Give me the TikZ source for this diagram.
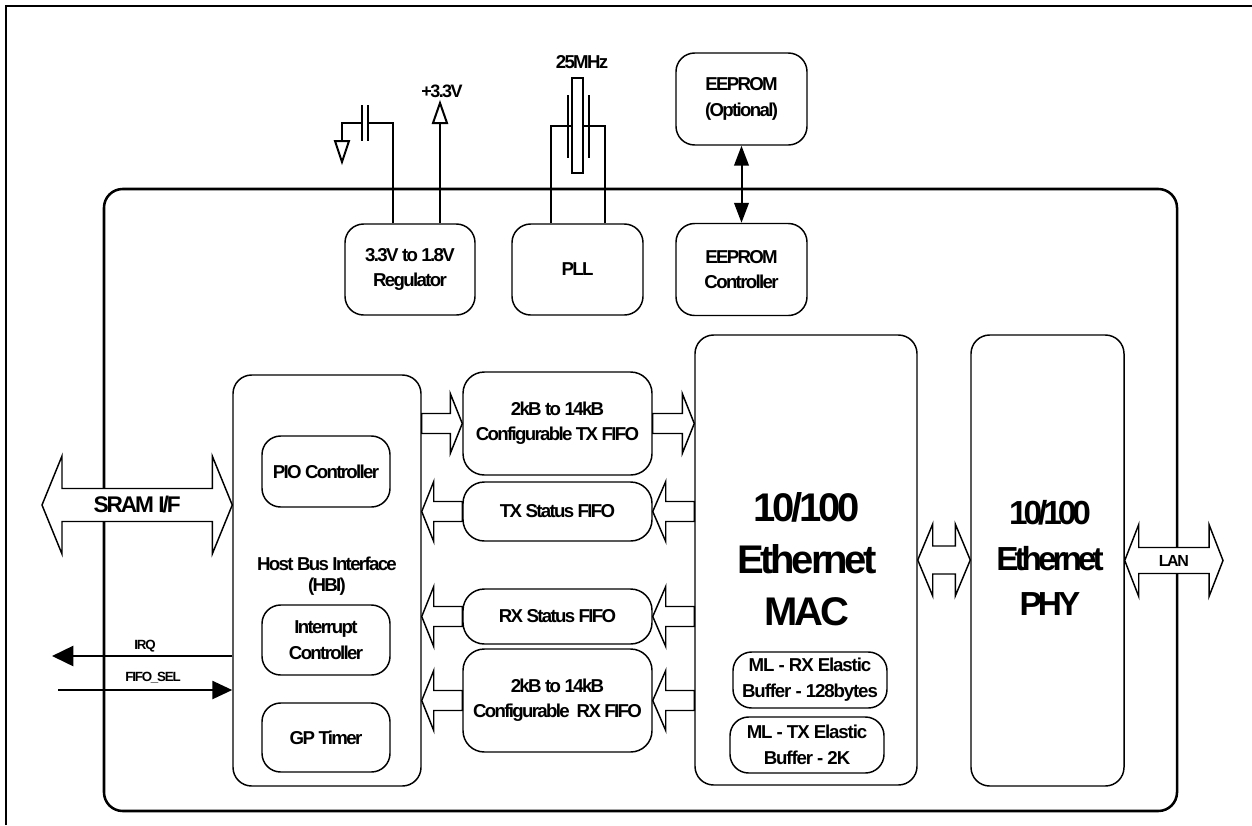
\documentclass[tikz,border=0pt]{standalone}
\usepackage{fontspec}
\setmainfont{Liberation Sans}[LetterSpace=-9.0]
\usetikzlibrary{arrows.meta, positioning, calc}

% wide bus arrow: tail, tip, head offset (signed), shaft half width, head half width
\newcommand{\busarrow}[5]{%
  \filldraw[bus] ($#1+(0,-#4)$) -- ($#2+(#3,-#4)$) -- ($#2+(#3,-#5)$) -- #2
    -- ($#2+(#3,#5)$) -- ($#2+(#3,#4)$) -- ($#1+(0,#4)$) -- cycle;}
% wide bus arrow with two heads: left tip, right tip, head length, shaft half, head half
\newcommand{\busboth}[5]{%
  \filldraw[bus] #1 -- ($#1+(#3,-#5)$) -- ($#1+(#3,-#4)$) -- ($#2+(-#3,-#4)$)
    -- ($#2+(-#3,-#5)$) -- #2 -- ($#2+(-#3,#5)$) -- ($#2+(-#3,#4)$)
    -- ($#1+(#3,#4)$) -- ($#1+(#3,#5)$) -- cycle;}

\begin{document}
\begin{tikzpicture}[x=0.75pt, y=-0.75pt]
    % Define styles
    \tikzset{boxsize/.style 2 args={minimum width=#1*0.75pt, minimum height=#2*0.75pt}}
    \tikzstyle{blk} = [rectangle, draw, line width=1.1pt, rounded corners=14pt, align=center, inner sep=1pt, font=\bfseries\fontsize{14}{19}\selectfont]
    \tikzstyle{chip} = [rectangle, draw, line width=1.9pt, rounded corners=14pt]
    \tikzstyle{big} = [align=center, font=\bfseries\fontsize{30}{39}\selectfont\addfontfeature{LetterSpace=-8}]
    \tikzstyle{lbl} = [inner sep=1pt, font=\bfseries\fontsize{11}{13}\selectfont]
    \tikzstyle{buf} = [blk, boxsize={154}{56}, font=\bfseries\fontsize{14}{19.5}\selectfont\addfontfeature{LetterSpace=-6}]
    \tikzstyle{bus} = [draw, fill=white, line width=1.1pt]
    \tikzstyle{wire} = [draw, line width=1.5pt]
    \tikzstyle{sig} = [draw, line width=2pt]

    \useasboundingbox (0,0) rectangle (1252,825);

    % Page frame
    \draw[line width=2.2pt] (6,825) -- (6,6) -- (1252,6);

    % Chip outline
    \node[chip, boxsize={1073}{622}] (CHIP) at (640.5,500) {};

    % Top row blocks
    \node[blk, boxsize={130}{91}] (REG) at (410,269.5) {3.3V to 1.8V\\Regulator};
    \node[blk, boxsize={131}{91}] (PLL) at (577.5,269.5) {PLL};
    \node[blk, boxsize={131}{92}] (EEC) at (741.5,269.5) {EEPROM\\Controller};
    \node[blk, boxsize={131}{92}] (EE) at (741.5,99) {EEPROM\\(Optional)};

    % Host bus interface
    \node[blk, boxsize={188}{411}] (HBI) at (327,580.5) {};
    \node[blk, boxsize={128}{71}] (PIO) at (326,471.5) {PIO Controller};
    \node[align=center, font=\bfseries\fontsize{14}{15.5}\selectfont] (HBIlbl) at (327,576) {Host Bus Interface\\(HBI)};
    \node[blk, boxsize={128}{70}] (INT) at (326,640) {Interrupt\\Controller};
    \node[blk, boxsize={128}{69}] (GPT) at (326,737.5) {GP Timer};

    % FIFOs
    \node[blk, boxsize={189}{103}, rounded corners=16pt] (TXF) at (557.5,423.5) {2kB to 14kB\\Configurable TX FIFO};
    \node[blk, boxsize={189}{59}, rounded corners=16pt] (TXS) at (557.5,511.5) {TX Status FIFO};
    \node[blk, boxsize={189}{55}, rounded corners=16pt] (RXS) at (557.5,616.5) {RX Status FIFO};
    \node[blk, boxsize={189}{103}, rounded corners=16pt] (RXF) at (557.5,700.5) {2kB to 14kB\\Configurable\ \ RX FIFO};

    % MAC and PHY
    \node[blk, boxsize={222}{450}] (MAC) at (806,560) {};
    \node[big] (MAClbl) at (807,559) {10/100\\Ethernet\\MAC};
    \node[buf] (MRX) at (810,680) {ML - RX Elastic\\Buffer - 128bytes};
    \node[buf] (MTX) at (807,745) {ML - TX Elastic\\Buffer - 2K};
    \node[blk, boxsize={153}{451}] (PHY) at (1047.5,560.5) {};
    \node[big, font=\bfseries\fontsize{25}{34}\selectfont\addfontfeature{LetterSpace=-12}] (PHYlbl) at (1050,558) {10/100\\Ethernet\\PHY};

    % Regulator supply and capacitor
    \coordinate (capR) at (368,123);
    \coordinate (capL) at (362,123);
    \coordinate (gnd) at (342,141);
    \coordinate (vdd) at (440,123);
    \draw[wire] ($(REG.north)+(-17,0)$) |- (capR);
    \draw[wire] (368,105) -- (368,141);
    \draw[wire] (362,105) -- (362,141);
    \draw[wire] (capL) -| (gnd);
    \draw[wire] ($(gnd)+(-7,0)$) -- ($(gnd)+(7,0)$) -- ($(gnd)+(0,21)$) -- cycle;
    \draw[wire] ($(REG.north)+(30,0)$) -- (vdd);
    \draw[wire] ($(vdd)+(-7,0)$) -- ($(vdd)+(7,0)$) -- ($(vdd)+(0,-20)$) -- cycle;
    \node[lbl, font=\bfseries\fontsize{13.5}{15}\selectfont] (VDD) at (442,91) {+3.3V};

    % Crystal
    \node[draw, line width=1.5pt, boxsize={11}{95}, inner sep=0] (XTAL) at (577.5,125.5) {};
    \draw[wire] (568,95) -- (568,158);
    \draw[wire] (589,95) -- (589,158);
    \draw[wire] ($(PLL.north)+(-26.5,0)$) |- (XTAL.west);
    \draw[wire] ($(PLL.north)+(27.5,0)$) |- (XTAL.east);
    \node[lbl, font=\bfseries\fontsize{14}{15}\selectfont] (FREQ) at (582,62) {25MHz};

    % EEPROM link
    \draw[wire, {Triangle[length=15pt, width=11pt]}-{Triangle[length=15pt, width=11pt]}] (EE.south) -- (EEC.north);

    % FIFO buses
    \busarrow{(HBI.east |- TXF.west)}{(TXF.west)}{-12}{10}{30}
    \busarrow{(TXF.east)}{(MAC.west |- TXF.east)}{-12}{10}{30}
    \busarrow{(TXS.west)}{(HBI.east |- TXS.west)}{12}{10}{30}
    \busarrow{(MAC.west |- TXS.east)}{(TXS.east)}{13}{10}{30}
    \busarrow{(RXS.west)}{(HBI.east |- RXS.west)}{12}{10}{30}
    \busarrow{(MAC.west |- RXS.east)}{(RXS.east)}{13}{10}{30}
    \busarrow{(RXF.west)}{(HBI.east |- RXF.west)}{12}{10}{30}
    \busarrow{(MAC.west |- RXF.east)}{(RXF.east)}{13}{10}{30}

    % MAC to PHY, PHY to LAN
    \busboth{(MAC.east)}{(PHY.west |- MAC.east)}{15}{14}{36}
    \coordinate (lanR) at (1223,560.5);
    \busboth{(PHY.east)}{(lanR)}{14}{13}{36}
    \node[lbl, font=\bfseries\fontsize{12}{13}\selectfont] (LAN) at ($(PHY.east)!0.5!(lanR)$) {LAN};

    % SRAM interface
    \coordinate (sramL) at (42,505);
    \busboth{(sramL)}{(HBI.west |- sramL)}{20}{16.5}{49}
    \node[font=\bfseries\fontsize{17}{19}\selectfont] (SRAM) at ($(sramL)!0.5!(HBI.west |- sramL)$) {SRAM I/F};

    % IRQ and FIFO_SEL
    \coordinate (irq) at (52,656);
    \coordinate (fsel) at (58,690);
    \draw[sig, -{Triangle[length=16pt, width=15pt]}] (HBI.west |- irq) -- (irq);
    \draw[sig, -{Triangle[length=15pt, width=13.5pt]}] (fsel) -- (HBI.west |- fsel);
    \node[lbl, font=\bfseries\fontsize{10}{11}\selectfont] (IRQ) at (145,646) {IRQ};
    \node[lbl, font=\bfseries\fontsize{10}{11}\selectfont] (FSEL) at (153,678) {FIFO\_SEL};
\end{tikzpicture}
\end{document}
